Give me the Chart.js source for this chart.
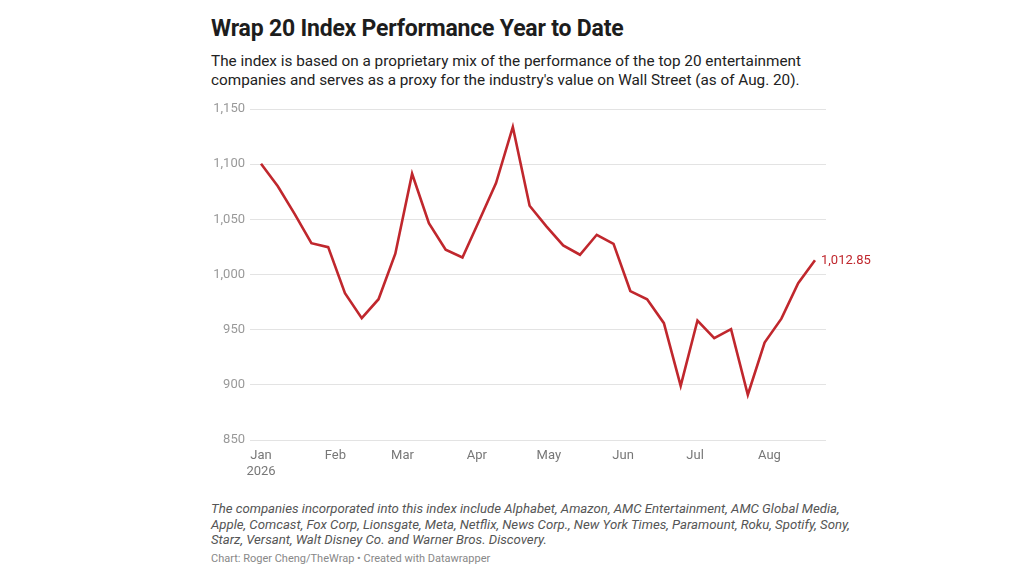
<!DOCTYPE html>
<html>
<head>
<meta charset="utf-8">
<script src="https://cdn.jsdelivr.net/npm/chart.js@4"></script>
<style>
  body { margin: 0; width: 1024px; height: 576px; background: #fff; font-family: Roboto, sans-serif; position: relative; overflow: hidden; }
  h1 { position: absolute; left: 211px; top: 15px; margin: 0; font-size: 23px; font-weight: 700; color: #1d1d1d; letter-spacing: -0.2px; }
  .sub { position: absolute; left: 211px; top: 52px; margin: 0; font-size: 15.3px; line-height: 19px; color: #222; width: 610px; }
  .wrap { position: absolute; left: 200px; top: 95px; width: 680px; height: 390px; }
  .note { position: absolute; left: 211px; top: 501px; margin: 0; font-size: 13.2px; line-height: 15.5px; font-style: italic; color: #555; width: 650px; }
  .credit { position: absolute; left: 211px; top: 552px; margin: 0; font-size: 11px; color: #888; }
</style>
</head>
<body>
<h1>Wrap 20 Index Performance Year to Date</h1>
<p class="sub">The index is based on a proprietary mix of the performance of the top 20 entertainment companies and serves as a proxy for the industry's value on Wall Street (as of Aug. 20).</p>
<div class="wrap"><canvas id="chart"></canvas></div>
<p class="note">The companies incorporated into this index include Alphabet, Amazon, AMC Entertainment, AMC Global Media, Apple, Comcast, Fox Corp, Lionsgate, Meta, Netflix, News Corp., New York Times, Paramount, Roku, Spotify, Sony, Starz, Versant, Walt Disney Co. and Warner Bros. Discovery.</p>
<p class="credit">Chart: Roger Cheng/TheWrap • Created with Datawrapper</p>
<script>
// weekly closes, day-of-year offsets from Jan 1 2026
const days = [0, 7, 14, 21, 28, 35, 42, 49, 56, 63, 70, 77, 84, 91, 98, 105, 112,
              119, 126, 133, 140, 147, 154, 161, 168, 175, 182, 189, 196, 203, 210, 217, 224, 231];
const values = [1100.4, 1080, 1055, 1028.4, 1024.8, 983, 960.4, 977.6, 1018.8, 1091.3, 1046.6,
                1022.4, 1015.4, 1049, 1082.9, 1133.7, 1062.3, 1043.6, 1026.3, 1017.9, 1036, 1027.8,
                985, 977.6, 955.9, 899, 958.3, 942.3, 950.4, 891, 938.3, 960, 992.2, 1012.85];
const monthStarts = [0, 31, 59, 90, 120, 151, 181, 212];
const monthLabels = ['Jan', 'Feb', 'Mar', 'Apr', 'May', 'Jun', 'Jul', 'Aug'];
const yTicks = [850, 900, 950, 1000, 1050, 1100, 1150];

const lineColor = '#c0272d';

const endLabel = {
    id: 'endLabel',
    afterDatasetsDraw(chart) {
        const meta = chart.getDatasetMeta(0);
        const pt = meta.data[meta.data.length - 1];
        const ctx = chart.ctx;
        ctx.save();
        ctx.font = '13px Roboto';
        ctx.fillStyle = lineColor;
        ctx.textBaseline = 'middle';
        ctx.fillText(values[values.length - 1].toLocaleString('en-US', { minimumFractionDigits: 2 }), pt.x + 6, pt.y);
        ctx.restore();
    }
};

new Chart(document.getElementById('chart'), {
    type: 'line',
    data: {
        datasets: [{
            data: days.map((d, i) => ({ x: d, y: values[i] })),
            borderColor: lineColor,
            borderWidth: 2.6,
            pointRadius: 0,
            tension: 0
        }]
    },
    options: {
        responsive: true,
        maintainAspectRatio: false,
        animation: false,
        layout: { padding: { top: 14, right: 54, left: 0, bottom: 0 } },
        plugins: { legend: { display: false }, tooltip: { enabled: false } },
        scales: {
            x: {
                type: 'linear',
                min: -4.6, max: 235.6,
                grid: { display: false },
                border: { display: false },
                afterBuildTicks: axis => { axis.ticks = monthStarts.map(v => ({ value: v })); },
                afterFit: axis => { axis.height = 45; },
                ticks: {
                    autoSkip: false, maxRotation: 0, padding: 0,
                    color: '#777', font: { family: 'Roboto', size: 13 },
                    callback: v => {
                        const i = monthStarts.indexOf(v);
                        return i === 0 ? [monthLabels[0], '2026'] : monthLabels[i];
                    }
                }
            },
            y: {
                min: 850, max: 1150,
                afterBuildTicks: axis => { axis.ticks = yTicks.map(v => ({ value: v })); },
                afterFit: axis => { axis.width = 50; },
                grid: { color: '#e3e3e3', drawTicks: false },
                border: { display: false },
                ticks: {
                    padding: 5, color: '#999', font: { family: 'Roboto', size: 13 },
                    callback: v => v.toLocaleString('en-US')
                }
            }
        }
    },
    plugins: [endLabel]
});
</script>
</body>
</html>
